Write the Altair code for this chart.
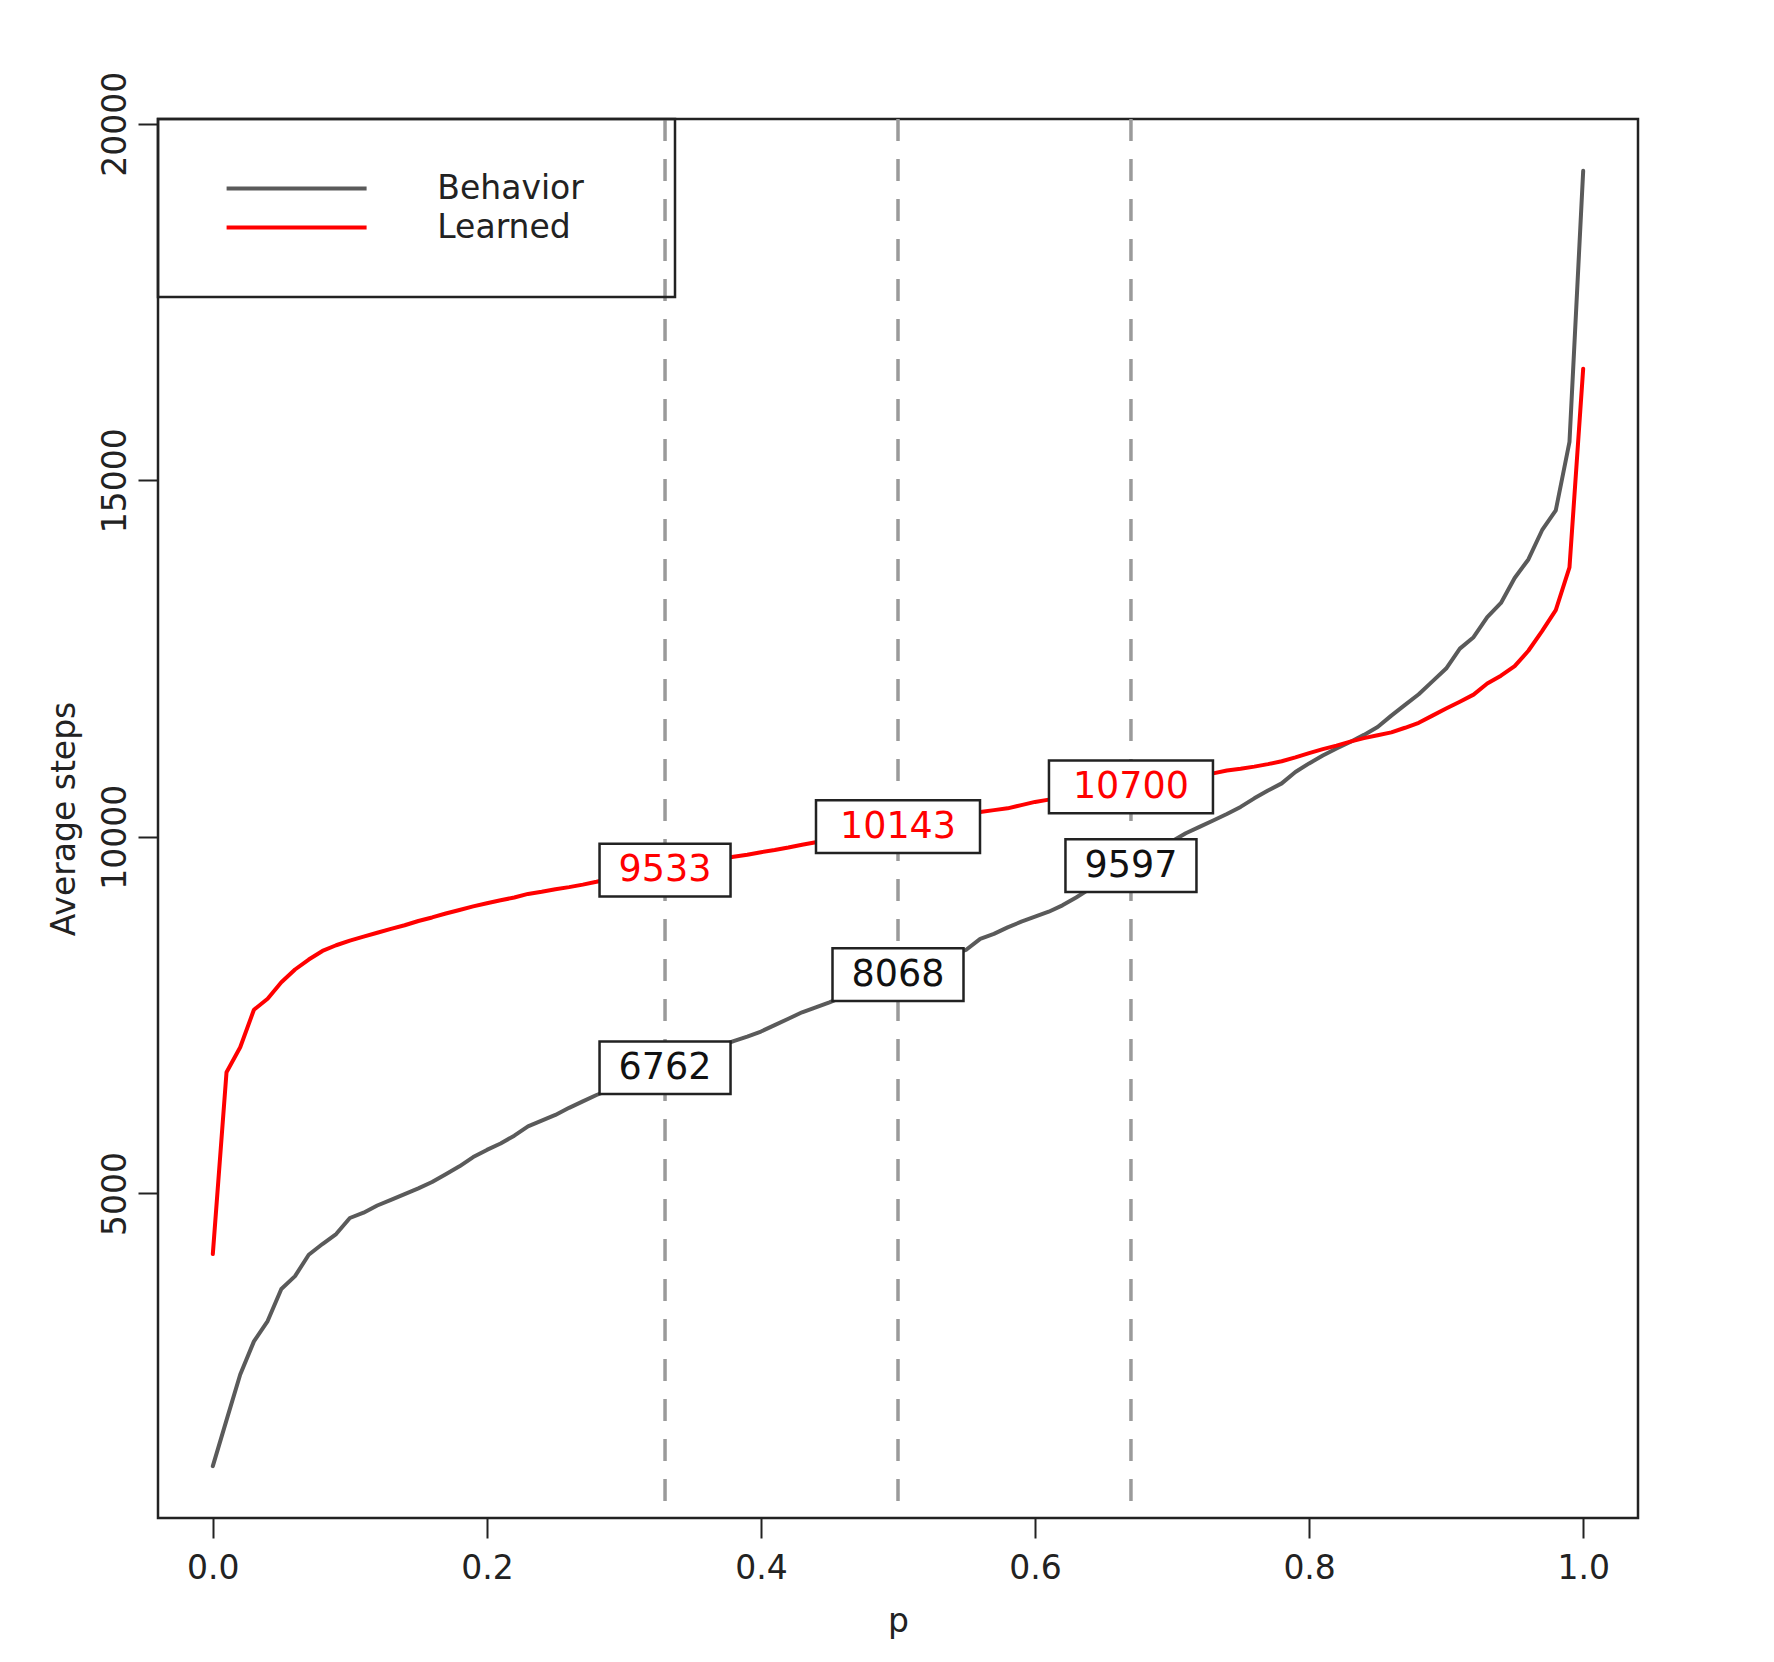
import altair as alt
import pandas as pd

# ---------------- data ----------------
p_grid = [round(i / 100, 2) for i in range(101)]

behavior = [1175, 1820, 2460, 2925, 3210, 3660, 3840, 4140, 4290, 4430,
            4655, 4730, 4830, 4910, 4990, 5070, 5160, 5270, 5380, 5510,
            5610, 5700, 5810, 5940, 6020, 6100, 6200, 6290, 6380, 6455,
            6530, 6605, 6685, 6762, 6840, 6920, 6995, 7065, 7135, 7200,
            7270, 7360, 7450, 7540, 7610, 7680, 7760, 7840, 7920, 7995,
            8068, 8140, 8210, 8280, 8350, 8420, 8570, 8640, 8730, 8810,
            8880, 8950, 9040, 9150, 9270, 9390, 9490, 9597, 9700, 9810,
            9940, 10050, 10140, 10230, 10320, 10420, 10540, 10650, 10750, 10910,
            11030, 11140, 11240, 11330, 11430, 11540, 11700, 11850, 12000, 12180,
            12360, 12640, 12800, 13080, 13280, 13630, 13890, 14300, 14580, 15540,
            19340]

learned = [4150, 6700, 7050, 7575, 7730, 7960, 8140, 8280, 8400, 8480,
           8545, 8600, 8655, 8710, 8760, 8820, 8870, 8925, 8975, 9025,
           9070, 9110, 9150, 9200, 9230, 9265, 9295, 9330, 9370, 9415,
           9450, 9480, 9505, 9533, 9570, 9610, 9650, 9690, 9720, 9750,
           9785, 9815, 9850, 9890, 9925, 9960, 9995, 10030, 10070, 10105,
           10143, 10180, 10220, 10260, 10295, 10325, 10350, 10375, 10400, 10445,
           10490, 10522, 10550, 10585, 10615, 10645, 10675, 10700, 10730, 10765,
           10800, 10835, 10860, 10890, 10930, 10955, 10985, 11020, 11060, 11115,
           11175, 11230, 11280, 11335, 11385, 11425, 11465, 11530, 11600, 11700,
           11800, 11895, 11995, 12150, 12260, 12395, 12610, 12885, 13180, 13780,
           16565]

series_names = ["Behavior", "Learned"]
series_colors = ["#5a5a5a", "#ff0000"]

vline_p = [0.33, 0.5, 0.67]
label_p = [0.33, 0.5, 0.67]
label_learned = [9533, 10143, 10700]
label_behavior = [6762, 8068, 9597]

x_ticks = [0.0, 0.2, 0.4, 0.6, 0.8, 1.0]
y_ticks = [5000, 10000, 15000, 20000]

# ---------------- tables ----------------
curves = pd.DataFrame({
    "p": p_grid + p_grid,
    "steps": behavior + learned,
    "series": ["Behavior"] * len(behavior) + ["Learned"] * len(learned),
})
labels = pd.DataFrame({
    "p": label_p + label_p,
    "steps": label_learned + label_behavior,
    "series": ["Learned"] * 3 + ["Behavior"] * 3,
    "text": [str(v) for v in label_learned + label_behavior],
})
vlines = pd.DataFrame({"p": vline_p})

FONT = "DejaVu Sans"
INK = "#222222"

xscale = alt.Scale(domain=[-0.04, 1.04], nice=False, zero=False)
yscale = alt.Scale(domain=[448, 20067], nice=False, zero=False)

x_enc = alt.X("p:Q", scale=xscale,
              axis=alt.Axis(values=x_ticks, format=".1f", title="p",
                            labelPadding=14, titlePadding=20,
                            labelFlush=False, labelOverlap=False))
y_enc = alt.Y("steps:Q", scale=yscale,
              axis=alt.Axis(values=y_ticks, format="d", title="Average steps",
                            labelAngle=270, labelAlign="center",
                            labelBaseline="alphabetic", labelPadding=13,
                            titlePadding=18, labelFlush=False,
                            labelOverlap=False))

lines = alt.Chart(curves).mark_line(strokeWidth=4, strokeCap="round",
                                    strokeJoin="round").encode(
    x=x_enc,
    y=y_enc,
    color=alt.Color("series:N",
                    scale=alt.Scale(domain=series_names, range=series_colors),
                    legend=alt.Legend(
                        # invisible title on the right only widens the box
                        title="MMMM", titleOrient="right", titleOpacity=0,
                        titleFontSize=12.3, titlePadding=0,
                        orient="none", legendX=0, legendY=0,
                        padding=50, clipHeight=39, rowPadding=0,
                        symbolType="stroke", symbolSize=19600,
                        symbolStrokeWidth=4, symbolOffset=16.6,
                        labelOffset=68.7, labelFontSize=33, labelFont=FONT,
                        labelColor=INK, labelLimit=600, labelBaseline="middle",
                        strokeColor=INK)),
)

rules = alt.Chart(vlines).mark_rule(color="#9a9a9a", strokeWidth=3.5,
                                    strokeDash=[22, 18]).encode(
    x=alt.X("p:Q", scale=xscale)
)

box4 = "M-1,-0.4023L1,-0.4023L1,0.4023L-1,0.4023Z"
box5 = "M-1,-0.3213L1,-0.3213L1,0.3213L-1,0.3213Z"

boxes4 = alt.Chart(labels).transform_filter(
    "length(datum.text) == 4"
).mark_point(shape=box4, size=17161, filled=True, fill="white",
             stroke=INK, strokeWidth=2.5, opacity=1).encode(
    x=alt.X("p:Q", scale=xscale), y=alt.Y("steps:Q", scale=yscale)
)
boxes5 = alt.Chart(labels).transform_filter(
    "length(datum.text) == 5"
).mark_point(shape=box5, size=26896, filled=True, fill="white",
             stroke=INK, strokeWidth=2.5, opacity=1).encode(
    x=alt.X("p:Q", scale=xscale), y=alt.Y("steps:Q", scale=yscale)
)

text_red = alt.Chart(labels).transform_filter(
    "datum.series == 'Learned'"
).mark_text(font=FONT, fontSize=36.5, align="center", baseline="middle",
            color="#ff0000").encode(
    x=alt.X("p:Q", scale=xscale), y=alt.Y("steps:Q", scale=yscale),
    text="text:N"
)
text_black = alt.Chart(labels).transform_filter(
    "datum.series == 'Behavior'"
).mark_text(font=FONT, fontSize=36.5, align="center", baseline="middle",
            color="#111111").encode(
    x=alt.X("p:Q", scale=xscale), y=alt.Y("steps:Q", scale=yscale),
    text="text:N"
)

chart = alt.layer(lines, rules, boxes4, boxes5, text_red, text_black).properties(
    width=1480,
    height=1399,
    autosize=alt.AutoSizeParams(type="none"),
    padding={"left": 150, "top": 111, "right": 120, "bottom": 130},
    background="white",
).configure_view(
    stroke=INK, strokeWidth=2.5
).configure_axis(
    grid=False, domain=False, ticks=True, tickSize=20, tickWidth=2,
    tickColor=INK, labelFont=FONT, labelFontSize=33, labelColor=INK,
    titleFont=FONT, titleFontSize=33, titleFontWeight="normal", titleColor=INK
).configure_legend(
    strokeWidth=2.5
)

chart.save("out.html", embed_options={"renderer": "svg", "actions": False})
